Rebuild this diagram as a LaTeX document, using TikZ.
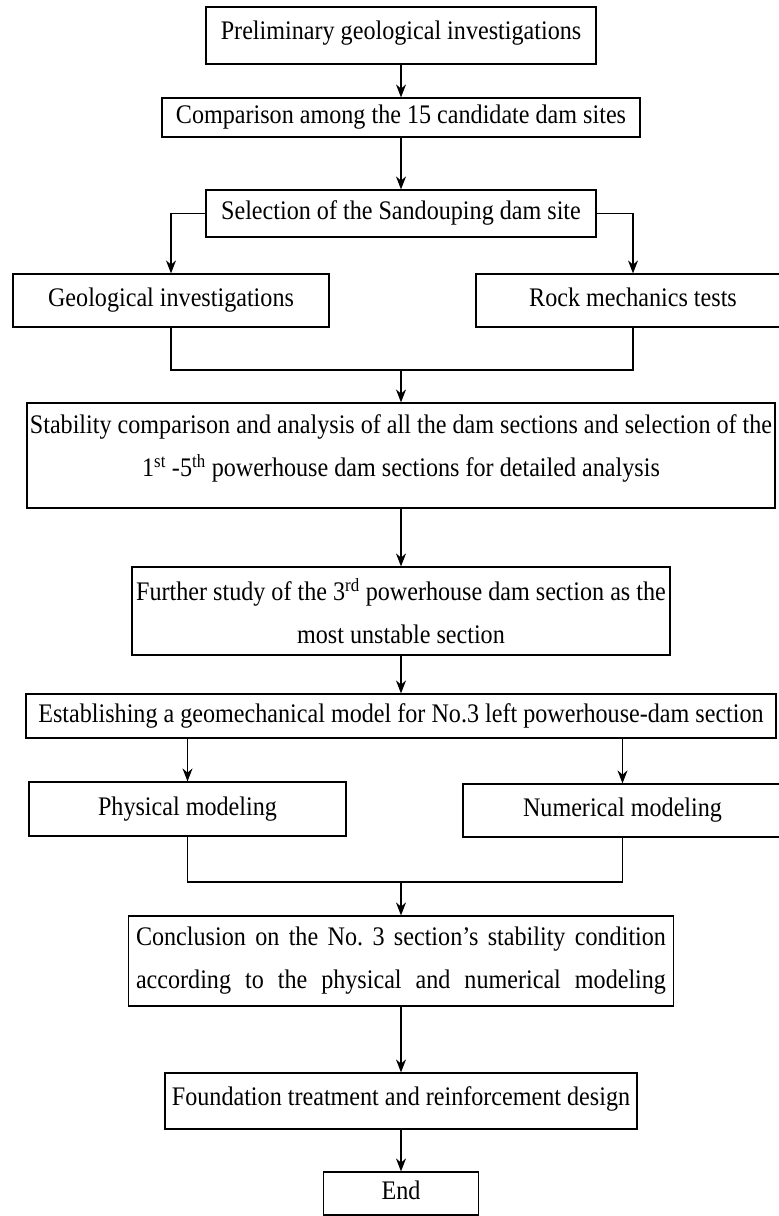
\documentclass[tikz,border=0pt]{standalone}
\usepackage{fontspec}
\setmainfont{Liberation Serif}[FakeStretch=0.9]
\usetikzlibrary{arrows.meta,positioning}

\begin{document}
\begin{tikzpicture}[x=1pt, y=-1pt, >={Stealth[length=13pt,width=10pt]},
  box/.style={draw, line width=1.2pt, inner sep=0pt, align=center,
    font=\fontsize{26.8}{43}\selectfont},
  line/.style={line width=1.2pt},
  arr/.style={line width=1.2pt, ->}]

\useasboundingbox (0,0) rectangle (779,1216);

% Site selection
\node[box, minimum width=390pt, minimum height=57pt, text depth=10pt] (prelim) at (401,35.5)
  {Preliminary geological investigations};
\node[box, minimum width=478pt, minimum height=39pt, text depth=6pt] (compare) at (401,117.5)
  {Comparison among the 15 candidate dam sites};
\node[box, minimum width=390pt, minimum height=47pt, text depth=6pt] (select) at (401,213.5)
  {Selection of the Sandouping dam site};

% Investigations and tests
\node[box, minimum width=316pt, minimum height=53pt, text depth=6pt] (geoinv) at (171,300.5)
  {Geological investigations};
\node[box, minimum width=314pt, minimum height=53pt, text depth=6pt] (rocktest) at (633,300.5)
  {Rock mechanics tests};
\coordinate (join1) at (401,370);

% Dam sections
\node[box, minimum width=748pt, minimum height=105pt, text depth=20pt] (stability) at (401,455.5)
  {Stability comparison and analysis of all the dam sections and selection of the\\
   1\textsuperscript{st} -5\textsuperscript{th} powerhouse dam sections for detailed analysis};
\node[box, minimum width=538pt, minimum height=88pt] (further) at (401,611)
  {Further study of the 3\textsuperscript{rd} powerhouse dam section as the\\
   most unstable section};
\node[box, minimum width=750pt, minimum height=44pt, text depth=6pt] (model) at (401,716)
  {Establishing a geomechanical model for No.3 left powerhouse-dam section};

% Modeling
\node[box, minimum width=317pt, minimum height=54pt, text depth=6pt] (physical) at (187.5,809)
  {Physical modeling};
\node[box, minimum width=319pt, minimum height=53pt, text depth=6pt] (numerical) at (622.5,810.5)
  {Numerical modeling};
\coordinate (join2) at (401,882);

% Conclusion
\node[box, minimum width=545pt, minimum height=90pt] (conclusion) at (401,961)
  {\makebox[530pt][s]{Conclusion on the No.\ 3 section’s stability condition}\\
   \makebox[530pt][s]{according to the physical and numerical modeling}};
\node[box, minimum width=472pt, minimum height=56pt, text depth=10pt] (design) at (401,1101)
  {Foundation treatment and reinforcement design};
\node[box, minimum width=155pt, minimum height=43pt, text depth=6pt] (end) at (401,1193.5)
  {End};

% Connectors
\draw[arr] (prelim) -- (compare);
\draw[arr] (compare) -- (select);
\draw[arr] (select.west) -| (geoinv.north);
\draw[arr] (select.east) -| (rocktest.north);
\draw[line] (geoinv.south) |- (join1) -| (rocktest.south);
\draw[arr] (join1) -- (stability.north);
\draw[arr] (stability) -- (further);
\draw[arr] (further) -- (model);
\draw[arr] (model.south -| physical.north) -- (physical.north);
\draw[arr] (model.south -| numerical.north) -- (numerical.north);
\draw[line] (physical.south) |- (join2) -| (numerical.south);
\draw[arr] (join2) -- (conclusion.north);
\draw[arr] (conclusion) -- (design);
\draw[arr] (design) -- (end);

\end{tikzpicture}
\end{document}
